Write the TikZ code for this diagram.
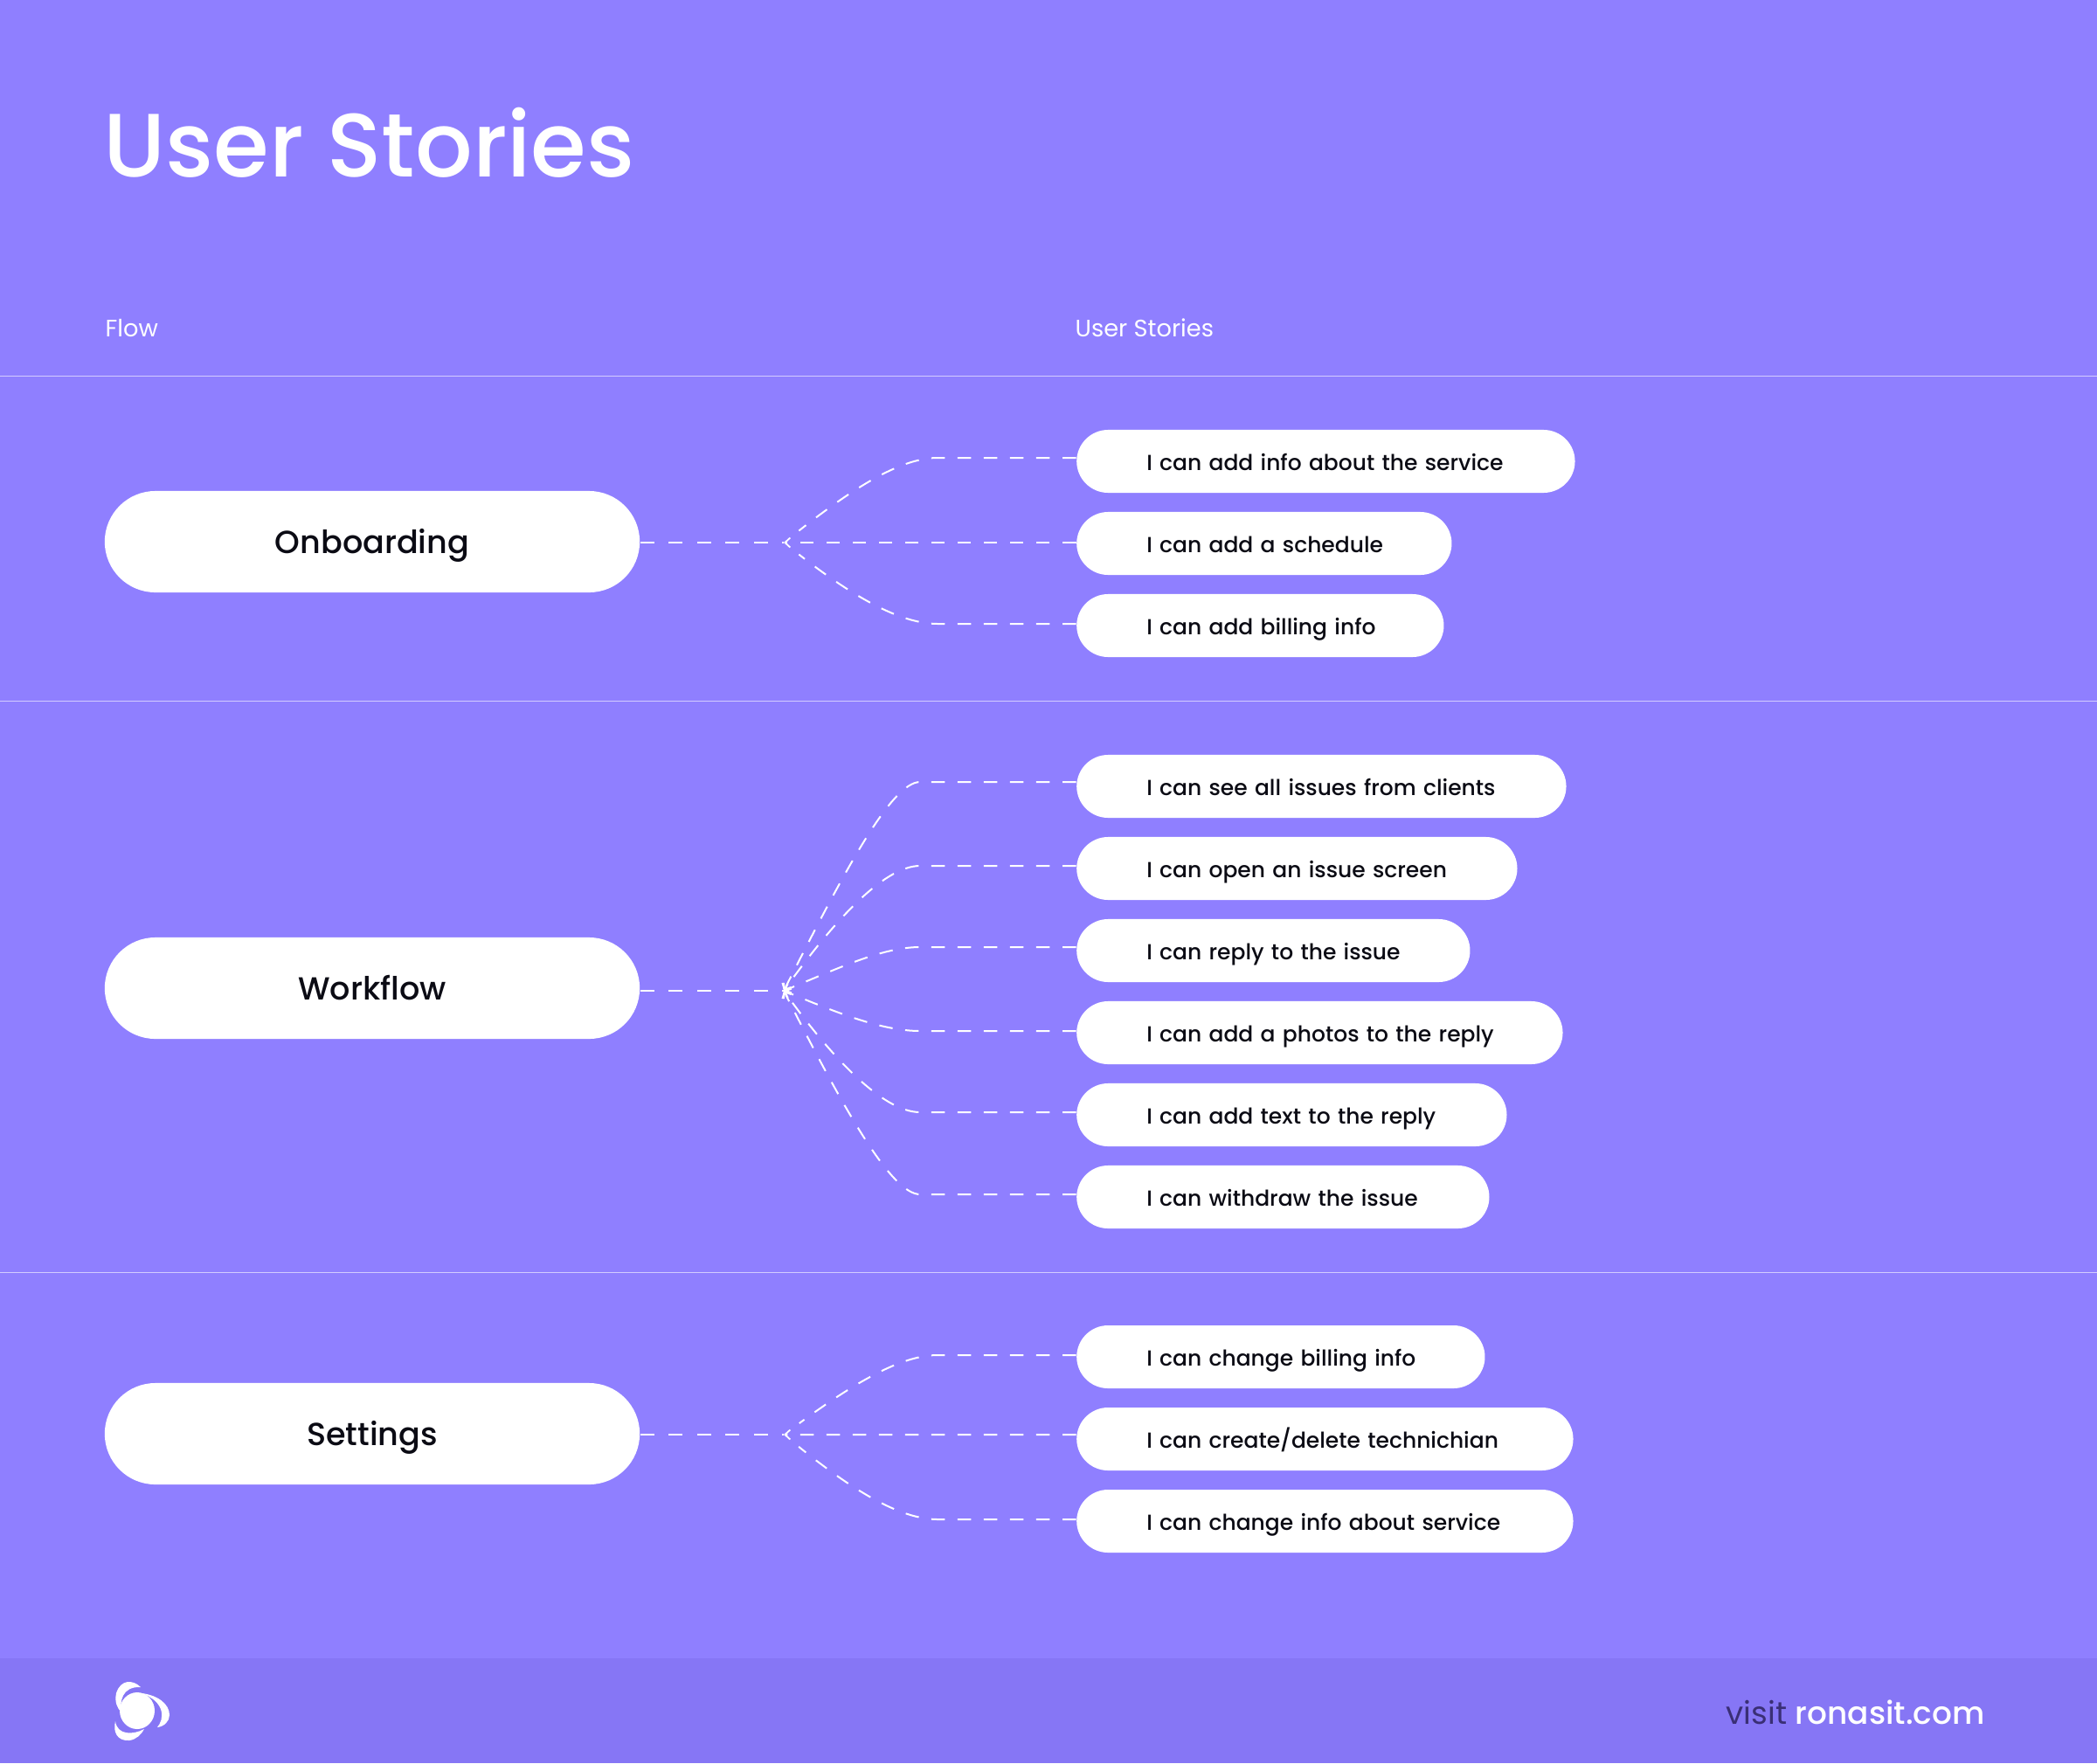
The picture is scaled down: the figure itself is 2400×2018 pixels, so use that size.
\documentclass[tikz,border=0pt]{standalone}
\usepackage{fontspec}
\setmainfont{Poppins}
\newfontfamily\medfont{Poppins Medium}
\usetikzlibrary{arrows.meta}
\definecolor{bgc}{HTML}{8F7FFF}
\definecolor{footc}{HTML}{8676F5}
\definecolor{rulec}{HTML}{D2CBFF}
\definecolor{inkc}{HTML}{0B0B14}
\definecolor{visitc}{HTML}{3A2F75}
\newcommand{\fs}[1]{\fontsize{#1}{#1}\selectfont}
\newcommand{\st}[1]{\mbox{#1}}
\tikzset{
  x=0.01cm,y=-0.01cm,
  flowpill/.style={fill=white,rounded corners=0.58cm,minimum width=6.12cm,minimum height=1.16cm,inner sep=0pt,text=inkc,font=\medfont\fs{10.4},text height=0.30cm,text depth=0.04cm},
  storypill/.style={fill=white,rounded corners=0.36cm,anchor=west,minimum height=0.72cm,inner ysep=0pt,inner xsep=0.8cm,text width=#1,align=left,text=inkc,font=\medfont\fs{7.1},text height=0.26cm,text depth=0.06cm},
  curve link/.style={draw=white,line width=0.02cm,dash pattern=on 0.155cm off 0.145cm,shorten >=0.22cm},
  link/.style={draw=white,line width=0.02cm,dash pattern=on 0.155cm off 0.145cm,-{Straight Barb[length=0.06cm,width=0.11cm,line width=0.018cm]}},
  plain link/.style={draw=white,line width=0.02cm,dash pattern=on 0.16cm off 0.165cm},
  sep/.style={draw=rulec,line width=0.015cm},
  head/.style={text=white,anchor=base west,inner sep=0pt,font=\fs{7.75}},
}
\begin{document}
\begin{tikzpicture}
\useasboundingbox (0,0) rectangle (2400,2018);
\fill[bgc] (0,0) rectangle (2400,2018);
\fill[footc] (0,1898) rectangle (2400,2018);
\draw[sep] (0,430.5) -- (2400,430.5);
\draw[sep] (0,802.5) -- (2400,802.5);
\draw[sep] (0,1456.5) -- (2400,1456.5);

\node[text=white,anchor=base west,inner sep=0pt,font=\medfont\fs{29.3}] (title) at (118,202) {User Stories};
\node[head] (hflow) at (120,385) {Flow};
\node[head] (hstory) at (1230,385) {User Stories};

\node[flowpill] (onb) at (426,620) {Onboarding};
\node[flowpill] (wrk) at (426,1131) {Workflow};
\node[flowpill] (set) at (426,1641) {Settings};

\coordinate (hubA) at (897,621);
\coordinate (hubB) at (897,1134);
\coordinate (hubC) at (897,1642);

\node[storypill=4.1cm] (a1) at (1231.5,528) {\st{I can add info about the service}};
\node[storypill=2.69cm] (a2) at (1231.5,622) {\st{I can add a schedule}};
\node[storypill=2.6cm] (a3) at (1231.5,716) {\st{I can add billing info}};

\node[storypill=4.0cm] (b1) at (1231.5,900) {\st{I can see all issues from clients}};
\node[storypill=3.44cm] (b2) at (1231.5,994) {\st{I can open an issue screen}};
\node[storypill=2.9cm] (b3) at (1231.5,1088) {\st{I can reply to the issue}};
\node[storypill=3.96cm] (b4) at (1231.5,1182) {\st{I can add a photos to the reply}};
\node[storypill=3.32cm] (b5) at (1231.5,1276) {\st{I can add text to the reply}};
\node[storypill=3.12cm] (b6) at (1231.5,1370) {\st{I can withdraw the issue}};

\node[storypill=3.07cm] (c1) at (1231.5,1553) {\st{I can change billing info}};
\node[storypill=4.08cm] (c2) at (1231.5,1647) {\st{I can create/delete technichian}};
\node[storypill=4.08cm] (c3) at (1231.5,1741) {\st{I can change info about service}};

% Onboarding
\draw[plain link] (onb.east |- hubA) -- (hubA);
\draw[curve link] ([yshift=0.04cm]a1.west) -- (1073,524) .. controls (1030,524) and (975,560) .. (hubA);
\draw[link] ([yshift=0.01cm]a2.west) -- (hubA);
\draw[curve link] ([yshift=0.02cm]a3.west) -- (1073,714) .. controls (1030,714) and (975,682) .. (hubA);
% Workflow
\draw[plain link] (wrk.east |- hubB) -- (hubB);
\draw[link] ([yshift=0.05cm]b1.west) -- (1053,895) .. controls (1020,895) and (965,1000) .. (hubB);
\draw[link] ([yshift=0.03cm]b2.west) -- (1053,991) .. controls (1010,991) and (950,1060) .. (hubB);
\draw[link] ([yshift=0.04cm]b3.west) -- (1053,1084) .. controls (1010,1084) and (960,1108) .. (hubB);
\draw[link] ([yshift=0.02cm]b4.west) -- (1053,1180) .. controls (1010,1180) and (960,1160) .. (hubB);
\draw[link] ([yshift=0.03cm]b5.west) -- (1053,1273) .. controls (1010,1273) and (950,1208) .. (hubB);
\draw[link] ([yshift=0.03cm]b6.west) -- (1053,1367) .. controls (1020,1367) and (965,1268) .. (hubB);
% Settings
\draw[plain link] (set.east |- hubC) -- (hubC);
\draw[curve link] ([yshift=0.02cm]c1.west) -- (1073,1551) .. controls (1030,1551) and (975,1585) .. (hubC);
\draw[link] ([yshift=0.05cm]c2.west) -- (hubC);
\draw[curve link] ([yshift=0.02cm]c3.west) -- (1073,1739) .. controls (1030,1739) and (975,1705) .. (hubC);

% Logo
\fill[white] (157,1958) ellipse [x radius=20,y radius=21];
\fill[white] (161,1931) .. controls (152,1922) and (138,1922) .. (133,1938) .. controls (131,1948) and (134,1955) .. (139,1960) .. controls (137,1948) and (139,1930) .. (161,1931) -- cycle;
\fill[white] (162,1938) .. controls (180,1940) and (194,1950) .. (194,1963) .. controls (194,1970) and (188,1976) .. (180,1977) .. controls (188,1968) and (190,1948) .. (162,1938) -- cycle;
\fill[white] (132,1970) .. controls (129,1982) and (134,1993) .. (148,1992) .. controls (156,1991) and (162,1985) .. (165,1979) .. controls (152,1986) and (134,1986) .. (132,1970) -- cycle;

\node[anchor=base east,inner sep=0pt,font=\fs{10.2}] (visit) at (2272,1973) {\textcolor{visitc}{visit} \textcolor{white}{\medfont ronasit.com}};
\end{tikzpicture}
\end{document}
